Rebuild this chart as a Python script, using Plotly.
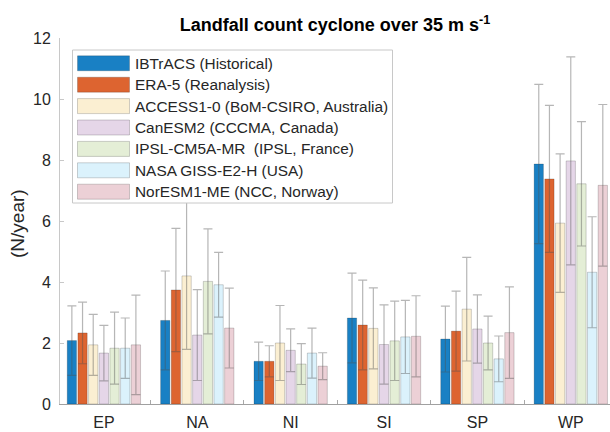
import plotly.graph_objects as go

# ---------------- data ----------------
regions = ["EP", "NA", "NI", "SI", "SP", "WP"]

names = [
    "IBTrACS (Historical)",
    "ERA-5 (Reanalysis)",
    "ACCESS1-0 (BoM-CSIRO, Australia)",
    "CanESM2 (CCCMA, Canada)",
    "IPSL-CM5A-MR  (IPSL, France)",
    "NASA GISS-E2-H (USA)",
    "NorESM1-ME (NCC, Norway)",
]

ibtracs = [2.08, 2.74, 1.40, 2.82, 2.13, 7.87]
ibtracs_err = [1.14, 1.62, 0.63, 1.47, 1.08, 2.61]
era5 = [2.33, 3.74, 1.40, 2.59, 2.39, 7.38]
era5_err = [1.01, 2.02, 0.51, 1.47, 1.31, 2.41]
access = [1.94, 4.20, 2.00, 2.48, 3.11, 5.93]
access_err = [1.00, 2.41, 1.23, 1.33, 1.70, 2.27]
canesm = [1.67, 2.26, 1.76, 1.95, 2.46, 7.97]
canesm_err = [0.91, 1.49, 0.70, 1.30, 1.12, 3.41]
ipsl = [1.83, 4.02, 1.31, 2.07, 2.00, 7.22]
ipsl_err = [1.18, 1.72, 0.67, 1.30, 0.88, 2.04]
nasa = [1.83, 3.91, 1.67, 2.20, 1.48, 4.32]
nasa_err = [0.99, 1.06, 0.82, 1.20, 0.75, 1.82]
noresm = [1.94, 2.49, 1.24, 2.22, 2.34, 7.17]
noresm_err = [1.63, 1.31, 0.44, 1.33, 1.50, 2.65]

y_ticks = [0, 2, 4, 6, 8, 10, 12]

# ---------------- styling ----------------
series = [ibtracs, era5, access, canesm, ipsl, nasa, noresm]
errors = [ibtracs_err, era5_err, access_err, canesm_err, ipsl_err, nasa_err, noresm_err]
colors = ["#1980C4", "#DD6430", "#FBEFD2", "#E5D6E8", "#E4EED6", "#DBF2FC", "#ECD0D6"]
edge = "rgba(0,0,0,0.18)"
err_col = "rgba(80,80,80,0.42)"
FONT = "Liberation Sans, Arial, Helvetica, sans-serif"
TXT = "#262626"

W, H = 610, 432
ML, MR, MT, MB = 60, 0, 38, 28
PW, PH = W - ML - MR, H - MT - MB


def px(x):
    return (x - ML) / PW


def py(y):
    return (H - MB - y) / PH


fig = go.Figure()
for name, vals, errs, col in zip(names, series, errors, colors):
    fig.add_trace(go.Bar(
        x=regions, y=vals, name=name,
        marker=dict(color=col, line=dict(color=edge, width=1)),
        error_y=dict(type="data", array=errs, visible=True, color=err_col,
                     thickness=1.2, width=4.5),
        showlegend=False,
    ))

# ---------------- manual legend (wide swatches like the original) ----------------
shapes = [dict(type="rect", xref="paper", yref="paper",
               x0=px(72.5), x1=px(392.5), y0=py(203), y1=py(50),
               line=dict(color="#c8c8c8", width=1), fillcolor="white", layer="above")]
annotations = []
row0, step = 63.3, 21.4
for i, (name, col) in enumerate(zip(names, colors)):
    cy = row0 + step * i
    shapes.append(dict(type="rect", xref="paper", yref="paper",
                       x0=px(77.5), x1=px(129.5), y0=py(cy + 7.5), y1=py(cy - 7.5),
                       line=dict(color=edge, width=1), fillcolor=col, layer="above"))
    annotations.append(dict(xref="paper", yref="paper", x=px(133), y=py(cy),
                            xanchor="left", yanchor="middle", showarrow=False,
                            text=name.replace("  ", "&nbsp; "),
                            font=dict(family=FONT, size=15.4, color=TXT)))

# y-axis label
annotations.append(dict(xref="paper", yref="paper", x=px(17), y=py(224),
                        xanchor="center", yanchor="middle", showarrow=False,
                        text="(N/year)", textangle=-90,
                        font=dict(family=FONT, size=19, color=TXT)))

fig.update_layout(
    width=W, height=H, autosize=False,
    margin=dict(l=ML, r=MR, t=MT, b=MB, pad=0),
    paper_bgcolor="white", plot_bgcolor="white",
    barmode="group", bargap=0.2, bargroupgap=0.13,
    title=dict(text="<b>Landfall count cyclone over 35 m s<sup>-1</sup></b>",
               x=(ML + PW / 2) / W, xanchor="center", xref="container",
               y=1 - 25 / H, yanchor="middle", yref="container",
               font=dict(family=FONT, size=18, color="black")),
    font=dict(family=FONT, color=TXT),
    shapes=shapes, annotations=annotations,
    xaxis=dict(type="category", range=[-0.47, 5.42], tickson="boundaries",
               ticks="inside", ticklen=4, tickcolor="#a8a8a8",
               showline=True, linecolor="#a0a0a0", linewidth=1,
               showgrid=False, zeroline=False, fixedrange=True,
               tickfont=dict(family=FONT, size=16, color=TXT),
               ticklabelstandoff=4),
    yaxis=dict(range=[0, 12], tickvals=y_ticks, ticks="inside", ticklen=4,
               tickcolor="#c8c8c8", showline=True, linecolor="#c8c8c8", linewidth=1,
               showgrid=False, zeroline=False, fixedrange=True,
               tickfont=dict(family=FONT, size=16, color=TXT),
               ticklabelstandoff=5),
)

fig.write_html(
    "out.html",
    config={"displayModeBar": False},
    post_script="document.body.style.margin='0';document.body.style.padding='0';",
)
